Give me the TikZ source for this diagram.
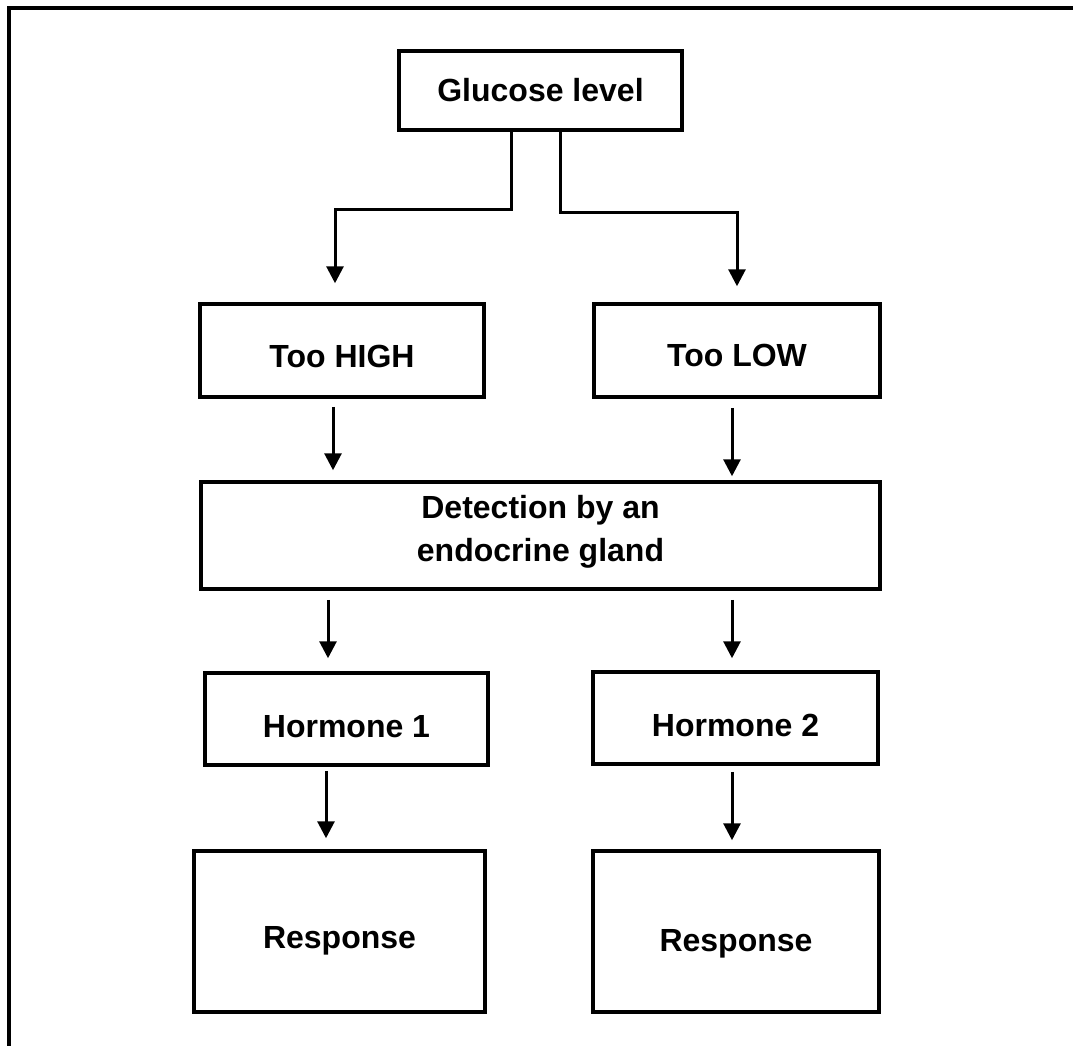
\documentclass[tikz,border=0pt]{standalone}
\usepackage{fontspec}
\setmainfont{Liberation Sans}
\usetikzlibrary{arrows.meta}
\begin{document}
\begin{tikzpicture}[x=1pt,y=-1pt,
  box/.style={draw=black,line width=3.5pt,rectangle,inner sep=0pt},
  txt/.style={align=center,inner sep=0pt,font=\fontsize{32}{43}\selectfont\bfseries},
  arr/.style={line width=3pt,-{Triangle[width=17pt,length=17pt]}},
  frame/.style={line width=4.5pt}]
\useasboundingbox (0,0) rectangle (1073,1046);
\draw[frame] (9,1046) -- (9,8) -- (1073,8);

\node[box,minimum width=283pt,minimum height=79pt,label={[txt]center:Glucose level}] (gl) at (540.5,90.5) {};
\node[box,minimum width=284pt,minimum height=93pt,label={[txt,yshift=-6pt]center:Too HIGH}] (th) at (342,350.5) {};
\node[box,minimum width=286pt,minimum height=93pt,label={[txt,yshift=-5pt]center:Too LOW}] (tl) at (737,350.5) {};
\node[box,minimum width=679pt,minimum height=107pt,label={[txt,yshift=4pt]center:Detection by an\\endocrine gland}] (det) at (540.5,535.5) {};
\node[box,minimum width=283pt,minimum height=92pt,label={[txt,yshift=-8pt]center:Hormone 1}] (h1) at (346.5,719) {};
\node[box,minimum width=285pt,minimum height=92pt,label={[txt,yshift=-7pt]center:Hormone 2}] (h2) at (735.5,718) {};
\node[box,minimum width=291pt,minimum height=161pt,label={[txt,yshift=-9pt]center:Response}] (r1) at (339.5,931.5) {};
\node[box,minimum width=286pt,minimum height=161pt,label={[txt,yshift=-12pt]center:Response}] (r2) at (736,931.5) {};

% split from glucose
\coordinate (gla) at ([xshift=-29.5pt]gl.south);
\coordinate (glb) at ([xshift=19.5pt]gl.south);
\draw[arr,shorten >=19pt] (gla) |- ([yshift=-78pt]gla -| {335,0}) -- ({335,0} |- th.north);
\draw[arr,shorten >=16pt] (glb) |- ([yshift=-81pt]glb -| {737,0}) -- (tl.north);

\draw[arr,shorten <=8pt,shorten >=10pt] ([xshift=-9pt]th.south) -- ([xshift=-9pt]th.south |- det.north);
\draw[arr,shorten <=9pt,shorten >=4pt] ([xshift=-5pt]tl.south) -- ([xshift=-5pt]tl.south |- det.north);
\draw[arr,shorten <=9pt,shorten >=13pt] (det.south -| h1.south) ++(-18.5,0) coordinate (d1) -- (d1 |- h1.north);
\draw[arr,shorten <=9pt,shorten >=12pt] (det.south -| h2.south) ++(-3.5,0) coordinate (d2) -- (d2 |- h2.north);
\draw[arr,shorten <=4pt,shorten >=11pt] ([xshift=-20.5pt]h1.south) -- ([xshift=-20.5pt]h1.south |- r1.north);
\draw[arr,shorten <=6pt,shorten >=9pt] ([xshift=-3.5pt]h2.south) -- ([xshift=-3.5pt]h2.south |- r2.north);
\end{tikzpicture}
\end{document}
